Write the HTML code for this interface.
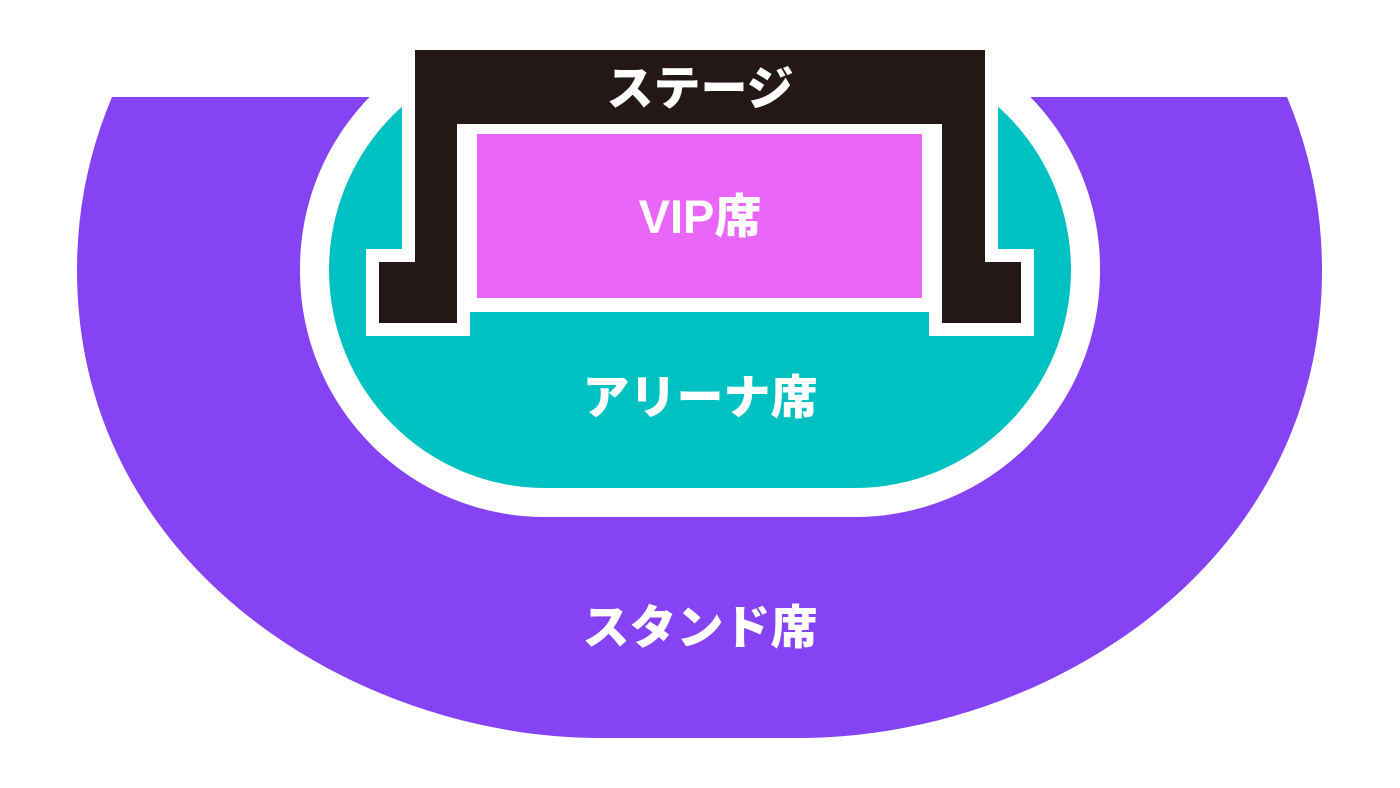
<!DOCTYPE html>
<html><head><meta charset="utf-8"><style>
html,body{margin:0;padding:0;background:#fff;}
svg{display:block;}
text{font-family:"Liberation Sans","Noto Sans CJK JP",sans-serif;font-weight:900;fill:#fff;text-anchor:middle;}
</style></head><body>
<svg width="1400" height="788" viewBox="0 0 1400 788" xmlns="http://www.w3.org/2000/svg">
<path d="M112,97 L1287,97 Q1322,180 1322,270 C1322,570 1040,738 800,738 L600,738 C360,738 77,570 77,270 Q77,180 112,97 Z" fill="#8643F3"/>
<rect x="300" y="23" width="800" height="494" rx="245" ry="245" fill="#fff"/>
<rect x="329" y="52" width="742" height="436" rx="216" ry="218" fill="#00C1C1"/>
<path d="M415,50 L985,50 L985,262 L1021,262 L1021,323 L942,323 L942,124 L457,124 L457,323 L379,323 L379,262 L415,262 Z" fill="#fff" stroke="#fff" stroke-width="26" stroke-linejoin="miter"/>
<rect x="444" y="111" width="511" height="201" fill="#fff"/>
<path d="M415,50 L985,50 L985,262 L1021,262 L1021,323 L942,323 L942,124 L457,124 L457,323 L379,323 L379,262 L415,262 Z" fill="#231815"/>
<rect x="457" y="124" width="485" height="188" fill="#fff"/>
<rect x="477" y="134" width="445" height="164" fill="#EA66F9"/>
<text x="700" y="105" font-size="47">ステージ</text>
<text x="700" y="233" font-size="47">VIP席</text>
<text x="700" y="414" font-size="47">アリーナ席</text>
<text x="700" y="644" font-size="47">スタンド席</text>
</svg>
</body></html>
